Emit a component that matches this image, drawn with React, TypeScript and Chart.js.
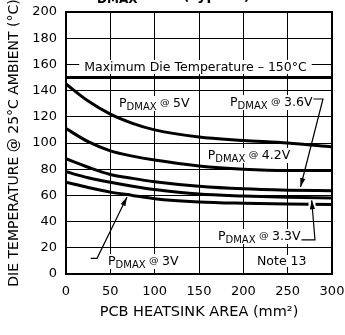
import React, { useEffect, useRef } from "react";
import { Chart, registerables } from "chart.js";

Chart.register(...registerables);

// PCB heatsink area (mm²)
const areas = [0, 25, 50, 75, 100, 150, 200, 250, 300];
// Die temperature (°C) @ 25°C ambient
const maxDieTemp = [150, 150, 150, 150, 150, 150, 150, 150, 150];
const temp5V = [145, 132, 122, 115, 110, 104.5, 102, 100, 97];
const temp42V = [111, 101, 94, 90, 87, 82.5, 80, 79, 79];
const temp36V = [88, 81.5, 76, 73, 70.5, 67, 65, 64, 63.5];
const temp33V = [78, 73.5, 70, 67, 64.5, 61, 59.5, 58.5, 58];
const temp3V = [70, 66, 62.5, 60, 57.5, 55, 54, 53.5, 53];

const xTickValues = [0, 50, 100, 150, 200, 250, 300];
const yTickValues = [0, 20, 40, 60, 80, 100, 120, 140, 160, 180, 200];

const xTitle = "PCB HEATSINK AREA (mm²)";
const yTitle = "DIE TEMPERATURE @ 25°C AMBIENT (°C)";
const maxLabel = "Maximum Die Temperature – 150°C";
const noteLabel = "Note 13";

// annotation anchors in data units [area, temperature]
const maxLabelAt = [146, 155];
const label5V = { text: "5V", at: [59.8, 127.5] };
const label36V = { text: "3.6V", at: [185, 128.2], corner: [289.8, 133.6], tip: [264.5, 66.4] };
const label42V = { text: "4.2V", at: [159.8, 87.8] };
const label33V = { text: "3.3V", at: [171.4, 26], corner: [280.8, 26], tip: [277.1, 56.3] };
const label3V = { text: "3V", at: [47.4, 6.9], start: [27.9, 12], corner: [35, 12], tip: [68.8, 58.8] };
const noteAt = [215.4, 6.9];

const FONT = '"DejaVu Sans", sans-serif';

function pts(ys: number[]) {
  return areas.map((x, i) => ({ x, y: ys[i] }));
}

function arrowHead(ctx: CanvasRenderingContext2D, fx: number, fy: number, tx: number, ty: number) {
  const a = Math.atan2(ty - fy, tx - fx);
  const len = 9;
  const w = 2.6;
  const bx = tx - len * Math.cos(a);
  const by = ty - len * Math.sin(a);
  ctx.beginPath();
  ctx.moveTo(tx, ty);
  ctx.lineTo(bx + w * Math.sin(a), by - w * Math.cos(a));
  ctx.lineTo(bx - w * Math.sin(a), by + w * Math.cos(a));
  ctx.closePath();
  ctx.fill();
}

function drawPLabel(ctx: CanvasRenderingContext2D, x: number, base: number, suffix: string): number {
  const fP = `12.5px ${FONT}`;
  const fSub = `10px ${FONT}`;
  const fAt = `9.5px ${FONT}`;
  const fSuf = `12.5px ${FONT}`;
  ctx.font = fP;
  const wP = ctx.measureText("P").width;
  ctx.font = fSub;
  const wSub = ctx.measureText("DMAX").width;
  ctx.font = fAt;
  const wAt = ctx.measureText("@").width;
  ctx.font = fSuf;
  const wSuf = ctx.measureText(suffix).width;
  const gap = 3.5;
  const total = wP + wSub + gap + wAt + gap + wSuf;
  ctx.fillStyle = "#fff";
  ctx.fillRect(x - 1.5, base - 11, total + 3, 15);
  ctx.fillStyle = "#000";
  ctx.textBaseline = "alphabetic";
  ctx.textAlign = "left";
  let cx = x;
  ctx.font = fP;
  ctx.fillText("P", cx, base);
  cx += wP;
  ctx.font = fSub;
  ctx.fillText("DMAX", cx, base + 3);
  cx += wSub + gap;
  ctx.font = fAt;
  ctx.fillText("@", cx, base - 2);
  cx += wAt + gap;
  ctx.font = fSuf;
  ctx.fillText(suffix, cx, base);
  return x + total;
}

const annotations = {
  id: "annotations",
  afterDatasetsDraw(chart: any) {
    const { ctx, chartArea, scales } = chart;
    const X = (v: number) => scales.x.getPixelForValue(v);
    const Y = (v: number) => scales.y.getPixelForValue(v);
    ctx.save();

    // top title sliver (cut off in the reference)
    ctx.fillStyle = "#000";
    ctx.textBaseline = "alphabetic";
    ctx.textAlign = "left";
    ctx.font = `bold 12px ${FONT}`;
    ctx.fillText("DMAX", 97, 3);
    ctx.font = `bold 14px ${FONT}`;
    ctx.fillText("(Typical)", 183, 0);

    // maximum die temperature label
    ctx.font = `12.5px ${FONT}`;
    const mw = ctx.measureText(maxLabel).width;
    const mx = X(maxLabelAt[0]);
    const my = Y(maxLabelAt[1]);
    ctx.fillStyle = "#fff";
    ctx.fillRect(mx - mw / 2 - 5, my - 11, mw + 10, 14);
    ctx.fillStyle = "#000";
    ctx.textAlign = "center";
    ctx.fillText(maxLabel, mx, my);
    ctx.textAlign = "left";

    // curve labels
    drawPLabel(ctx, X(label5V.at[0]), Y(label5V.at[1]), label5V.text);
    drawPLabel(ctx, X(label42V.at[0]), Y(label42V.at[1]), label42V.text);

    ctx.lineWidth = 1.2;
    ctx.strokeStyle = "#000";
    ctx.fillStyle = "#000";

    // 3.6V
    {
      const bx = Y(label36V.at[1]);
      const end = drawPLabel(ctx, X(label36V.at[0]), bx, label36V.text);
      const cy = Y(label36V.corner[1]);
      const cxp = X(label36V.corner[0]);
      const tx = X(label36V.tip[0]);
      const ty = Y(label36V.tip[1]);
      ctx.fillStyle = "#000";
      ctx.beginPath();
      ctx.moveTo(end + 1, cy);
      ctx.lineTo(cxp, cy);
      ctx.lineTo(tx, ty);
      ctx.stroke();
      arrowHead(ctx, cxp, cy, tx, ty);
    }

    // 3.3V
    {
      const by = Y(label33V.at[1]);
      const end = drawPLabel(ctx, X(label33V.at[0]), by, label33V.text);
      const cxp = X(label33V.corner[0]);
      const cy = Y(label33V.corner[1]);
      const tx = X(label33V.tip[0]);
      const ty = Y(label33V.tip[1]);
      // white gap where the arrow crosses the lowest curve
      ctx.strokeStyle = "#fff";
      ctx.lineWidth = 7;
      ctx.beginPath();
      ctx.moveTo(tx + (cxp - tx) * 0.05, ty + (cy - ty) * 0.05);
      ctx.lineTo(tx + (cxp - tx) * 0.22, ty + (cy - ty) * 0.22);
      ctx.stroke();
      ctx.strokeStyle = "#000";
      ctx.lineWidth = 1.2;
      ctx.fillStyle = "#000";
      ctx.beginPath();
      ctx.moveTo(end + 1, cy);
      ctx.lineTo(cxp, cy);
      ctx.lineTo(tx, ty);
      ctx.stroke();
      arrowHead(ctx, cxp, cy, tx, ty);
    }

    // 3V
    {
      const by = Y(label3V.at[1]);
      drawPLabel(ctx, X(label3V.at[0]), by, label3V.text);
      const sx = X(label3V.start[0]);
      const sy = Y(label3V.start[1]);
      const cxp = X(label3V.corner[0]);
      const cy = Y(label3V.corner[1]);
      const tx = X(label3V.tip[0]);
      const ty = Y(label3V.tip[1]);
      ctx.fillStyle = "#000";
      ctx.beginPath();
      ctx.moveTo(sx, sy);
      ctx.lineTo(cxp, cy);
      ctx.lineTo(tx, ty);
      ctx.stroke();
      arrowHead(ctx, cxp, cy, tx, ty);
    }

    // Note 13
    ctx.font = `12.5px ${FONT}`;
    const nw = ctx.measureText(noteLabel).width;
    const nx = X(noteAt[0]);
    const ny = Y(noteAt[1]);
    ctx.fillStyle = "#fff";
    ctx.fillRect(nx - 1, ny - 10, nw + 2, 12);
    ctx.fillStyle = "#000";
    ctx.fillText(noteLabel, nx, ny);

    // plot frame
    ctx.lineWidth = 2;
    ctx.strokeStyle = "#000";
    ctx.strokeRect(chartArea.left, chartArea.top, chartArea.right - chartArea.left, chartArea.bottom - chartArea.top);
    ctx.restore();
  },
};

export default function App() {
  const ref = useRef<HTMLCanvasElement | null>(null);

  useEffect(() => {
    if (!ref.current) return;
    const line = (ys: number[], width: number) => ({
      data: pts(ys),
      borderColor: "#000",
      backgroundColor: "#000",
      borderWidth: width,
      pointRadius: 0,
      fill: false,
      cubicInterpolationMode: "monotone" as const,
    });
    const chart = new Chart(ref.current, {
      type: "line",
      data: {
        datasets: [
          line(maxDieTemp, 3.2),
          line(temp5V, 3),
          line(temp42V, 3),
          line(temp36V, 3),
          line(temp33V, 3),
          line(temp3V, 3),
        ],
      },
      options: {
        responsive: false,
        animation: false,
        layout: { padding: { top: 12, right: 13, left: 0, bottom: 0 } },
        plugins: { legend: { display: false }, tooltip: { enabled: false }, title: { display: false } },
        scales: {
          x: {
            type: "linear",
            min: 0,
            max: 300,
            afterBuildTicks: (s: any) => {
              s.ticks = xTickValues.map((v) => ({ value: v }));
            },
            ticks: { color: "#000", font: { family: FONT, size: 13 }, padding: 10, maxRotation: 0 },
            grid: { color: "#000", lineWidth: 1, drawTicks: false },
            border: { display: false },
            title: {
              display: true,
              text: xTitle,
              color: "#000",
              font: { family: FONT, size: 14.5 },
              padding: { top: 0, bottom: 14 },
            },
            afterFit: (s: any) => {
              s.height = 61;
              s.paddingLeft = 0;
              s.paddingRight = 0;
            },
          },
          y: {
            type: "linear",
            min: 0,
            max: 200,
            afterBuildTicks: (s: any) => {
              s.ticks = yTickValues.map((v) => ({ value: v }));
            },
            ticks: { color: "#000", font: { family: FONT, size: 13 }, padding: 9 },
            grid: { color: "#000", lineWidth: 1, drawTicks: false },
            border: { display: false },
            title: {
              display: true,
              text: yTitle,
              color: "#000",
              font: { family: FONT, size: 14 },
              padding: { top: 6, bottom: 0 },
            },
            afterFit: (s: any) => {
              s.width = 66;
              s.paddingTop = 0;
              s.paddingBottom = 0;
            },
          },
        },
      },
      plugins: [annotations],
    });
    return () => chart.destroy();
  }, []);

  return (
    <div style={{ position: "fixed", left: 0, top: 0, width: 345, height: 335, background: "#fff" }}>
      <canvas ref={ref} width={345} height={335} style={{ display: "block" }} />
    </div>
  );
}
